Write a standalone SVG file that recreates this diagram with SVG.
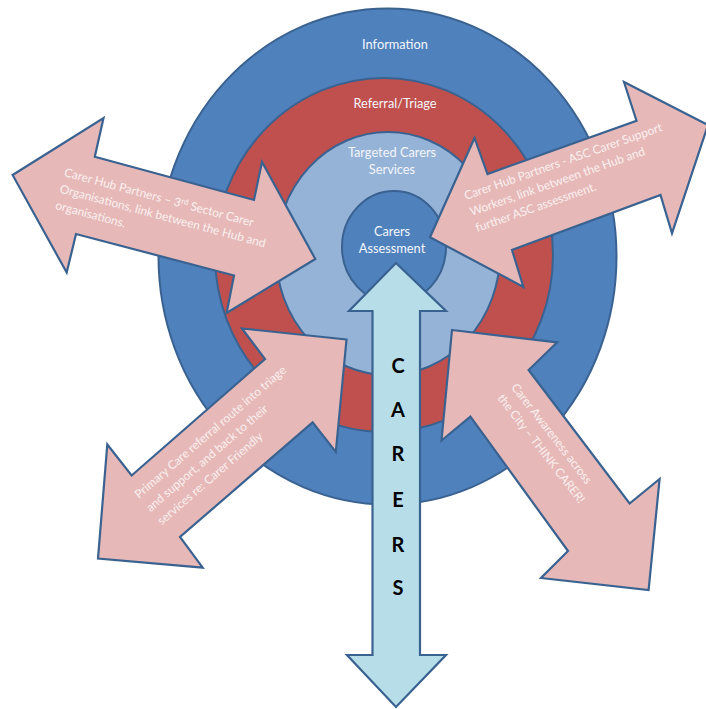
<svg xmlns="http://www.w3.org/2000/svg" width="706" height="709" viewBox="0 0 706 709">
<style>
.ring{stroke:#3a6291;stroke-width:2}
.pink{fill:#e6b9b8;stroke:#3a6291;stroke-width:2.2;stroke-linejoin:miter}
.cyan{fill:#b7dee8;stroke:#3a6291;stroke-width:2.2}
.lbl{font-family:Lato,"Open Sans","Liberation Sans",sans-serif;font-size:12.8px;fill:#f4f6fb;text-anchor:middle}
.at{font-family:Lato,"Open Sans","Liberation Sans",sans-serif;font-size:11.9px;fill:#fbf0f0}
.big{font-family:Lato,"Liberation Sans",sans-serif;font-size:20px;font-weight:bold;fill:#000;text-anchor:middle}
</style>
<rect width="706" height="709" fill="#fff"/>
<g id="ring-information">
<ellipse class="ring" cx="387.5" cy="256.5" rx="229" ry="248" fill="#4f81bd"/>
<text class="lbl" x="395" y="49">Information</text>
</g>
<g id="ring-referral">
<ellipse class="ring" cx="384" cy="255" rx="169" ry="177" fill="#c0504d"/>
<text class="lbl" x="395" y="108">Referral/Triage</text>
</g>
<g id="ring-targeted">
<ellipse class="ring" cx="388" cy="253.5" rx="112" ry="121.5" fill="#95b3d7"/>
<text class="lbl" x="392" y="157">Targeted Carers</text>
<text class="lbl" x="392" y="174">Services</text>
</g>
<g id="node-assessment">
<ellipse class="ring" cx="394" cy="247" rx="52" ry="56" fill="#4f81bd"/>
<text class="lbl" x="392" y="236">Carers</text>
<text class="lbl" x="392" y="253">Assessment</text>
</g>
<g id="connectors">
<g id="arrow-hub-3rd-sector">
<polygon class="pink" points="12.6,175 103.5,118 94.8,156.8 254,200 262,162 315.3,259 226.6,313 234,275.5 76,234 66.7,272.5"/>
<g transform="translate(63.5,176) rotate(15)">
<text class="at" x="0" y="0">Carer Hub Partners – 3<tspan font-size="8" dy="-4">rd</tspan><tspan dy="4"> Sector Carer</tspan></text>
<text class="at" x="0" y="17">Organisations, link between the Hub and</text>
<text class="at" x="0" y="34">organisations.</text>
</g>
</g>
<g id="arrow-hub-asc">
<polygon class="pink" points="430,237.2 474.5,138 487.5,174 636.5,120.7 624,82 708,125 672,233.3 660.5,195 512,250 523.4,287"/>
<g transform="translate(466,200) rotate(-19.4)">
<text class="at" x="0" y="0">Carer Hub Partners - ASC Carer Support</text>
<text class="at" x="0" y="17">Workers, link between the Hub and</text>
<text class="at" x="0" y="34">further ASC assessment.</text>
</g>
</g>
<g id="arrow-primary-care">
<polygon class="pink" points="346.5,339.5 242,328.5 265,359 131.6,475.5 107.3,444.5 98,558.6 202.7,567.6 180,537 312.6,422.3 335.8,452"/>
<g transform="translate(139,499) rotate(-40.8)">
<text class="at" x="0" y="0">Primary Care referral route into triage</text>
<text class="at" x="0" y="17.5">and support, and back to their</text>
<text class="at" x="0" y="35">services re: Carer Friendly</text>
</g>
</g>
<g id="arrow-awareness">
<polygon class="pink" points="452,330 557.2,342.4 528.6,370 629.6,503.5 659.6,479 648.6,590 541,578 568,551 470.4,416.7 441.5,440.5"/>
<g transform="translate(510.8,387.4) rotate(52.2)">
<text class="at" x="0" y="0">Carer Awareness across</text>
<text class="at" x="0" y="17.5">the City – THINK CARER!</text>
</g>
</g>
<g id="arrow-carers">
<polygon class="cyan" points="396,263 446,311 420,311 420,655 446,655 396,707 347,655 372.5,655 372.5,311 349,311"/>
<text class="big" x="398" y="373">C</text>
<text class="big" x="398" y="417">A</text>
<text class="big" x="398" y="461">R</text>
<text class="big" x="398" y="507">E</text>
<text class="big" x="398" y="552">R</text>
<text class="big" x="398" y="595">S</text>
</g>
</g>
</svg>
